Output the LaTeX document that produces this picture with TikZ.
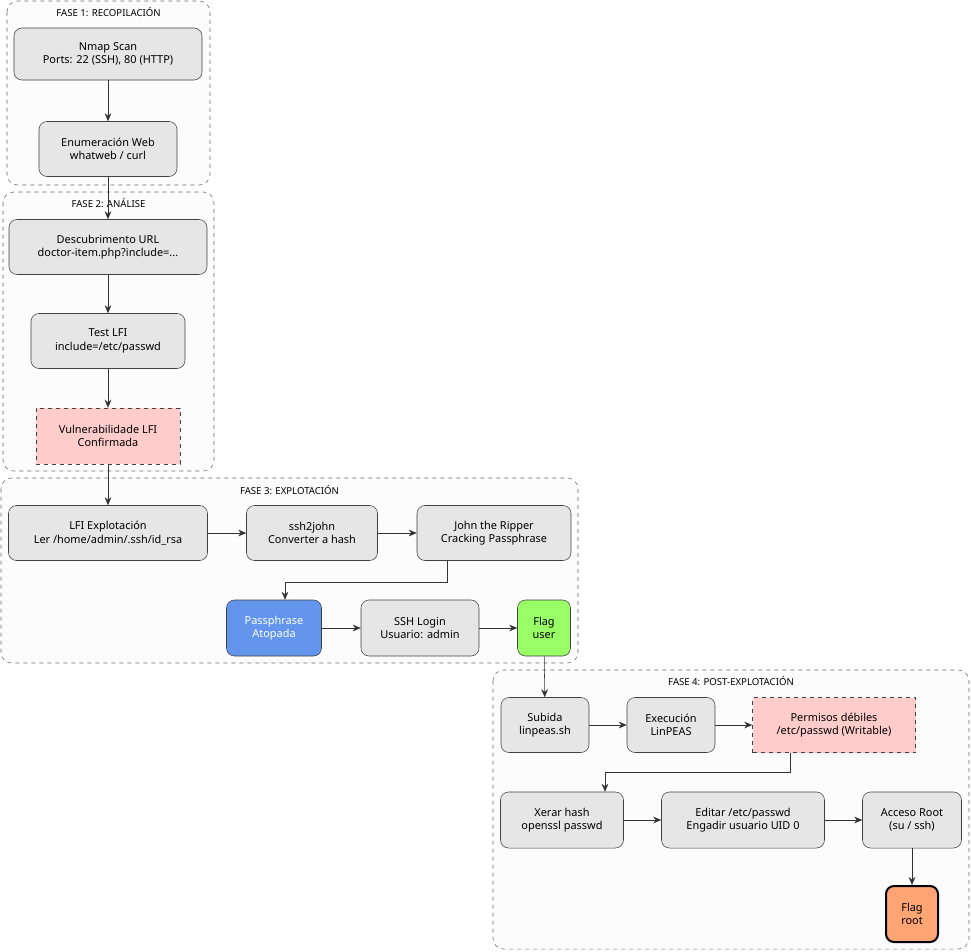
\documentclass[tikz,border=0pt]{standalone}
\usepackage{fontspec}
\setmainfont{Noto Sans}
\usetikzlibrary{arrows.meta}
\definecolor{boxgray}{HTML}{E6E6E6}
\definecolor{vulnpink}{HTML}{FFCCCC}
\definecolor{passblue}{HTML}{6495ED}
\definecolor{flaggreen}{HTML}{99FF66}
\definecolor{rootorange}{HTML}{FFA573}
\definecolor{clusterbg}{HTML}{FCFCFC}
\begin{document}
\begin{tikzpicture}[x=0.75pt, y=-0.75pt, font=\fontsize{8.2}{10}\selectfont]
% Define styles
\tikzset{
  stage/.style={rectangle, rounded corners=6pt, draw=black!75, fill=boxgray, align=center, inner sep=0pt},
  vuln/.style={rectangle, draw=black!75, dashed, fill=vulnpink, align=center, inner sep=0pt},
  phase/.style={draw=black!60, dashed, rounded corners=8pt, fill=clusterbg},
  phasetitle/.style={font=\fontsize{7.2}{9}\selectfont, anchor=north},
  arrow/.style={-{Stealth[length=6pt,width=5pt]}, draw=black!80}
}
\useasboundingbox (0,0) rectangle (971,951);

% Phase clusters
\draw[phase] (7,1) rectangle (210,185);
\node[phasetitle] (Phase1) at (108.5,3) {FASE 1: RECOPILACIÓN};
\draw[phase] (3,192) rectangle (214,471);
\node[phasetitle] (Phase2) at (108.5,194) {FASE 2: ANÁLISE};
\draw[phase] (1,478) rectangle (578,663);
\node[phasetitle] (Phase3) at (289.5,481) {FASE 3: EXPLOTACIÓN};
\draw[phase] (493,670) rectangle (969,949);
\node[phasetitle] (Phase4) at (731,672) {FASE 4: POST-EXPLOTACIÓN};

% Phase 1 nodes
\node[stage, minimum width=188*0.75pt, minimum height=52*0.75pt] (NmapScan) at (108,54) {Nmap Scan\\Ports: 22 (SSH), 80 (HTTP)};
\node[stage, minimum width=138*0.75pt, minimum height=55*0.75pt] (WebEnum) at (108,149) {Enumeración Web\\whatweb / curl};

% Phase 2 nodes
\node[stage, minimum width=198*0.75pt, minimum height=55*0.75pt] (UrlDiscovery) at (108,247) {Descubrimento URL\\doctor-item.php?include=...};
\node[stage, minimum width=154*0.75pt, minimum height=55*0.75pt] (LfiTest) at (108,341) {Test LFI\\include=/etc/passwd};
\node[vuln, minimum width=144*0.75pt, minimum height=56*0.75pt] (LfiVuln) at (108,436) {Vulnerabilidade LFI\\Confirmada};

% Phase 3 nodes
\node[stage, minimum width=199*0.75pt, minimum height=55*0.75pt] (LfiExploit) at (108,533) {LFI Explotación\\Ler /home/admin/.ssh/id\_rsa};
\node[stage, minimum width=131*0.75pt, minimum height=55*0.75pt] (SshToJohn) at (312,533) {ssh2john\\Converter a hash};
\node[stage, minimum width=154*0.75pt, minimum height=55*0.75pt] (JohnRipper) at (494,533) {John the Ripper\\Cracking Passphrase};
\node[stage, fill=passblue, text=white, minimum width=95*0.75pt, minimum height=56*0.75pt] (Passphrase) at (274,628) {Passphrase\\Atopada};
\node[stage, minimum width=118*0.75pt, minimum height=56*0.75pt] (SshLogin) at (420,628) {SSH Login\\Usuario: admin};
\node[stage, fill=flaggreen, minimum width=53*0.75pt, minimum height=56*0.75pt] (FlagUser) at (544,628) {Flag\\user};

% Phase 4 nodes
\node[stage, minimum width=88*0.75pt, minimum height=55*0.75pt] (Upload) at (545,725) {Subida\\linpeas.sh};
\node[stage, minimum width=88*0.75pt, minimum height=55*0.75pt] (RunPeas) at (671,725) {Execución\\LinPEAS};
\node[vuln, minimum width=163*0.75pt, minimum height=55*0.75pt] (WeakPerms) at (834,725) {Permisos débiles\\/etc/passwd (Writable)};
\node[stage, minimum width=123*0.75pt, minimum height=56*0.75pt] (MakeHash) at (562,820) {Xerar hash\\openssl passwd};
\node[stage, minimum width=163*0.75pt, minimum height=56*0.75pt] (EditPasswd) at (743,820) {Editar /etc/passwd\\Engadir usuario UID 0};
\node[stage, minimum width=99*0.75pt, minimum height=56*0.75pt] (RootAccess) at (912,820) {Acceso Root\\(su / ssh)};
\node[stage, fill=rootorange, line width=1.5pt, draw=black, minimum width=52*0.75pt, minimum height=56*0.75pt] (FlagRoot) at (912,914) {Flag\\root};

% Relationships (arrows)
\draw[arrow] (NmapScan) -- (WebEnum);
\draw[arrow] (WebEnum) -- (UrlDiscovery);
\draw[arrow] (UrlDiscovery) -- (LfiTest);
\draw[arrow] (LfiTest) -- (LfiVuln);
\draw[arrow] (LfiVuln) -- (LfiExploit);
\draw[arrow] (LfiExploit) -- (SshToJohn);
\draw[arrow] (SshToJohn) -- (JohnRipper);
\draw[arrow] (JohnRipper.south -| 447,0) -- (447,582) -- (285,582) -- (Passphrase.north -| 285,0);
\draw[arrow] (Passphrase) -- (SshLogin);
\draw[arrow] (SshLogin) -- (FlagUser);
\draw[arrow] (FlagUser) -- (Upload);
\draw[arrow] (Upload) -- (RunPeas);
\draw[arrow] (RunPeas) -- (WeakPerms);
\draw[arrow] (WeakPerms.south -| 790,0) -- (790,772) -- (605,772) -- (MakeHash.north -| 605,0);
\draw[arrow] (MakeHash) -- (EditPasswd);
\draw[arrow] (EditPasswd) -- (RootAccess);
\draw[arrow] (RootAccess) -- (FlagRoot);

\end{tikzpicture}
\end{document}
